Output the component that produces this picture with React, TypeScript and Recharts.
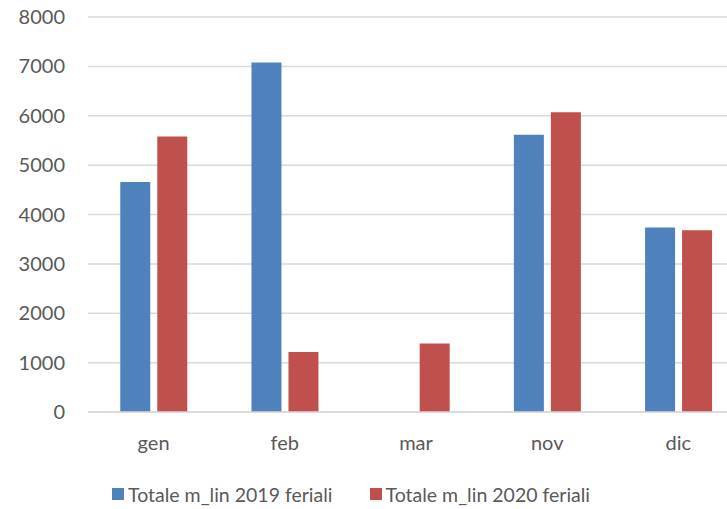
import { BarChart, Bar, XAxis, YAxis, CartesianGrid, Legend } from 'recharts';

const months = ['gen', 'feb', 'mar', 'nov', 'dic'];
const feriali2019 = [4660, 7080, null, 5615, 3735];
const feriali2020 = [5580, 1215, 1385, 6070, 3680];
const yTicks = [0, 1000, 2000, 3000, 4000, 5000, 6000, 7000, 8000];

const seriesNames = ['Totale m_lin 2019 feriali', 'Totale m_lin 2020 feriali'];
const seriesColors = ['#4F81BD', '#C0504D'];

const FONT = 'Lato, "Open Sans", sans-serif';
const TEXT = '#595959';

const data = months.map((m, i) => ({
  mese: m,
  a2019: feriali2019[i],
  a2020: feriali2020[i]
}));

function LegendBox() {
  return (
    <div style={{ display: 'flex', alignItems: 'center', marginLeft: 112, height: 30, fontFamily: FONT, fontSize: 19.5, color: TEXT }}>
      {seriesNames.map((name, i) => (
        <div key={name} style={{ display: 'flex', alignItems: 'center', marginRight: 37 }}>
          <span style={{ width: 12, height: 12, background: seriesColors[i], display: 'inline-block', marginRight: 4 }} />
          <span style={{ whiteSpace: 'nowrap' }}>{name}</span>
        </div>
      ))}
    </div>
  );
}

export default function App() {
  return (
    <div style={{ position: 'absolute', left: 0, top: 0, width: 727, height: 509, overflow: 'hidden', background: '#fff' }}>
      <BarChart
        width={744}
        height={509}
        data={data}
        margin={{ top: 17, right: 0, left: 0, bottom: 0 }}
        barCategoryGap="24.6%"
        barGap={7}
      >
        <CartesianGrid vertical={false} stroke="#d9d9d9" strokeWidth={1.5} />
        <XAxis
          dataKey="mese"
          height={67}
          tickLine={false}
          axisLine={{ stroke: '#d9d9d9', strokeWidth: 1.5 }}
          tick={{ fill: TEXT, fontSize: 20, fontFamily: FONT }}
          tickMargin={18}
        />
        <YAxis
          width={88}
          domain={[0, 8000]}
          ticks={yTicks}
          interval={0}
          axisLine={false}
          tickLine={false}
          tickSize={0}
          tickMargin={23}
          tick={{ fill: TEXT, fontSize: 20, fontFamily: FONT }}
        />
        <Legend verticalAlign="bottom" height={30} wrapperStyle={{ left: 0, width: 727 }} content={() => <LegendBox />} />
        <Bar dataKey="a2019" name={seriesNames[0]} fill={seriesColors[0]} isAnimationActive={false} />
        <Bar dataKey="a2020" name={seriesNames[1]} fill={seriesColors[1]} isAnimationActive={false} />
      </BarChart>
    </div>
  );
}
